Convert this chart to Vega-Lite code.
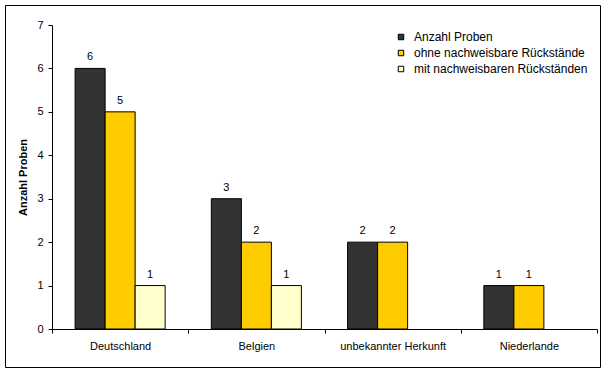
{
  "$schema": "https://vega.github.io/schema/vega-lite/v6.json",
  "width": 595,
  "height": 362,
  "autosize": {"type": "none"},
  "padding": 5,
  "background": "white",
  "config": {
    "view": {"stroke": "black", "strokeWidth": 1},
    "font": "Liberation Sans",
    "axis": {"grid": false, "domainColor": "black", "tickColor": "black", "labelColor": "black", "titleColor": "black", "labelFont": "Liberation Sans", "titleFont": "Liberation Sans", "labelFontSize": 11, "titleFontSize": 11, "tickSize": 4}
  },
  "data": {
    "values": [
      {"land": "Deutschland", "serie": "Anzahl Proben", "wert": 6},
      {"land": "Deutschland", "serie": "ohne nachweisbare Rückstände", "wert": 5},
      {"land": "Deutschland", "serie": "mit nachweisbaren Rückständen", "wert": 1},
      {"land": "Belgien", "serie": "Anzahl Proben", "wert": 3},
      {"land": "Belgien", "serie": "ohne nachweisbare Rückstände", "wert": 2},
      {"land": "Belgien", "serie": "mit nachweisbaren Rückständen", "wert": 1},
      {"land": "unbekannter Herkunft", "serie": "Anzahl Proben", "wert": 2},
      {"land": "unbekannter Herkunft", "serie": "ohne nachweisbare Rückstände", "wert": 2},
      {"land": "Niederlande", "serie": "Anzahl Proben", "wert": 1},
      {"land": "Niederlande", "serie": "ohne nachweisbare Rückstände", "wert": 1}
    ]
  },
  "encoding": {
    "x": {
      "field": "land", "type": "nominal",
      "sort": ["Deutschland", "Belgien", "unbekannter Herkunft", "Niederlande"],
      "scale": {"range": [47, 592], "paddingInner": 0, "paddingOuter": 0},
      "axis": {"title": null, "labelAngle": 0, "tickBand": "extent", "offset": -38, "labelPadding": 7}
    },
    "xOffset": {
      "field": "serie", "type": "nominal",
      "sort": ["Anzahl Proben", "ohne nachweisbare Rückstände", "mit nachweisbaren Rückständen"],
      "scale": {"domain": ["Anzahl Proben", "ohne nachweisbare Rückstände", "mit nachweisbaren Rückständen"], "paddingInner": 0, "paddingOuter": 0.77}
    },
    "y": {
      "field": "wert", "type": "quantitative",
      "scale": {"domain": [0, 7], "range": [324, 20], "nice": false},
      "axis": {"title": "Anzahl Proben", "titleFontWeight": "bold", "values": [0, 1, 2, 3, 4, 5, 6, 7], "offset": -47, "labelPadding": 5, "titlePadding": 8}
    }
  },
  "layer": [
    {
      "mark": {"type": "bar", "stroke": "black", "strokeWidth": 1},
      "encoding": {
        "color": {
          "field": "serie", "type": "nominal",
          "sort": ["Anzahl Proben", "ohne nachweisbare Rückstände", "mit nachweisbaren Rückständen"],
          "scale": {"domain": ["Anzahl Proben", "ohne nachweisbare Rückstände", "mit nachweisbaren Rückständen"], "range": ["#333333", "#FFCC00", "#FFFFCC"]},
          "legend": {
            "title": null, "orient": "none", "legendX": 390, "legendY": 26,
            "symbolType": "square", "symbolSize": 30, "symbolStrokeColor": "black", "symbolStrokeWidth": 1,
            "labelFont": "Liberation Sans", "labelFontSize": 12, "labelColor": "black", "labelLimit": 300, "rowPadding": 4, "labelOffset": 7
          }
        }
      }
    },
    {
      "mark": {"type": "text", "dy": -6, "baseline": "bottom", "fontSize": 11, "font": "Liberation Sans", "color": "black"},
      "encoding": {"text": {"field": "wert", "type": "quantitative"}}
    }
  ]
}
